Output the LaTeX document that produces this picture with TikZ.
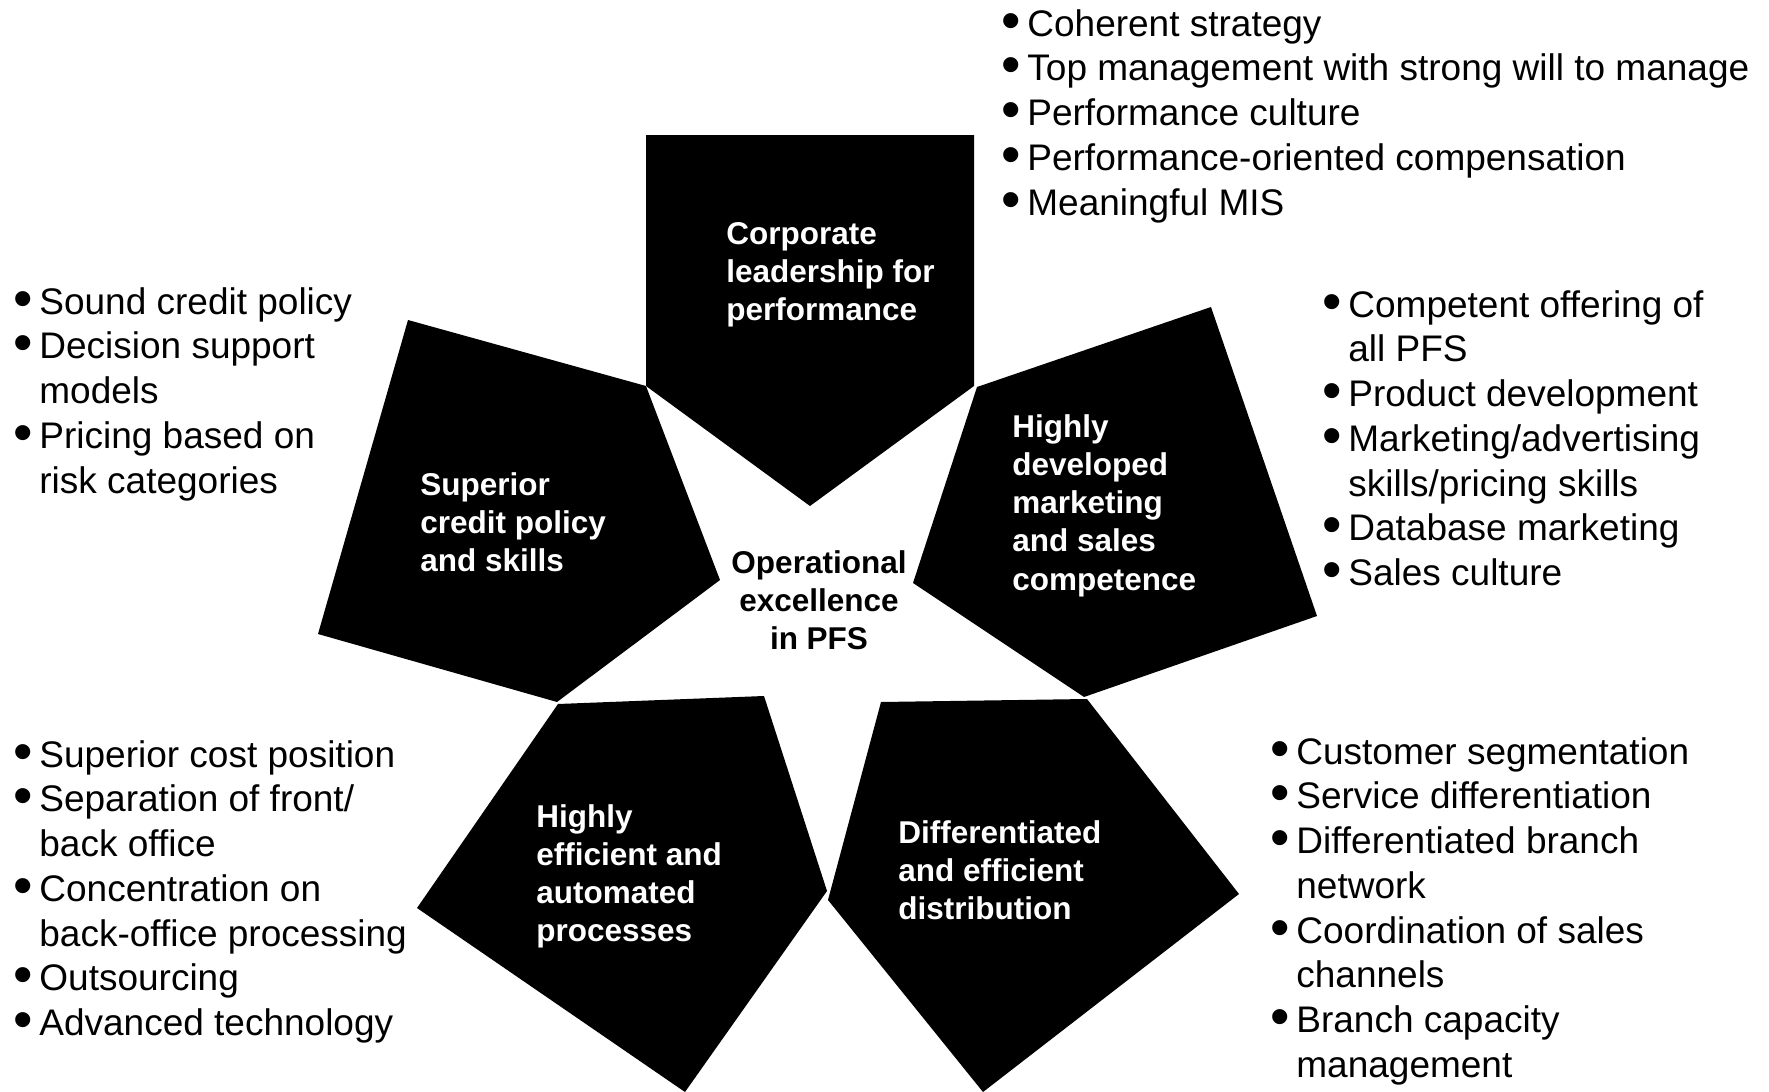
\documentclass[tikz,border=0pt]{standalone}
\usepackage{fontspec}
\usepackage{graphicx}
\setmainfont{Liberation Sans}
\usetikzlibrary{positioning}
\newcommand{\blt}{\llap{\smash{\raisebox{-1.5pt}{\scalebox{1.5}{\textbullet}}}\hspace{3pt}}}
\newcommand{\listfont}{\fontsize{18.5}{22.35}\selectfont}
\newcommand{\lblfont}{\fontsize{15.75}{19.1}\selectfont\bfseries}

\begin{document}
\begin{tikzpicture}[x=.5pt,y=-.5pt,
  pent/.style={fill=black},
  lbl/.style={font=\lblfont,text=white,align=left,anchor=north west,inner sep=0pt},
  pts/.style={font=\listfont,align=left,anchor=north west,inner sep=0pt}]
\useasboundingbox (0,0) rectangle (1769,1092);
% five pentagons round the centre
\fill[pent] (646,135)--(974,135)--(974,386)--(810,506)--(646,386)--cycle;
\fill[pent] (408,320)--(646,386)--(720,580)--(557,702)--(318,634)--cycle;
\fill[pent] (977,387)--(1211,307)--(1317,616)--(1084,697)--(913,583)--cycle;
\fill[pent] (558,704)--(764,696)--(827,891)--(685,1092)--(417,908)--cycle;
\fill[pent] (881,702)--(1087,699)--(1239,894)--(983,1092)--(828,900)--cycle;
% labels
\node[lbl] (lead) at (726,222) {Corporate\\leadership for\\performance};
\node[lbl] (credit) at (420,472) {Superior\\credit policy\\and skills};
\node[lbl] (mkt) at (1012,414) {Highly\\developed\\marketing\\and sales\\competence};
\node[lbl] (proc) at (536,804) {Highly\\efficient and\\automated\\processes};
\node[lbl] (dist) at (898,820) {Differentiated\\and efficient\\distribution};
\node[lbl,text=black,align=center,anchor=north] (core) at (819,550) {Operational\\excellence\\in PFS};
% bullet lists
\node[pts] (leadpts) at (1027,9) {\blt Coherent strategy\\\blt Top management with strong will to manage\\\blt Performance culture\\\blt Performance-oriented compensation\\\blt Meaningful MIS};
\node[pts] (creditpts) at (39,287) {\blt Sound credit policy\\\blt Decision support\\models\\\blt Pricing based on\\risk categories};
\node[pts] (mktpts) at (1348,290) {\blt Competent offering of\\all PFS\\\blt Product development\\\blt Marketing/advertising\\skills/pricing skills\\\blt Database marketing\\\blt Sales culture};
\node[pts] (procpts) at (39,740) {\blt Superior cost position\\\blt Separation of front/\\back office\\\blt Concentration on\\back-office processing\\\blt Outsourcing\\\blt Advanced technology};
\node[pts] (distpts) at (1296,737) {\blt Customer segmentation\\\blt Service differentiation\\\blt Differentiated branch\\network\\\blt Coordination of sales\\channels\\\blt Branch capacity\\management};
\end{tikzpicture}
\end{document}
